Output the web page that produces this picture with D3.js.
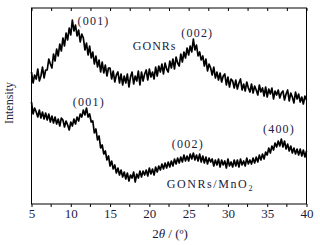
<!DOCTYPE html>
<html>
<head>
<meta charset="utf-8">
<script src="https://cdn.jsdelivr.net/npm/d3@7"></script>
<style>
  body { margin: 0; background: #fff; }
  text { font-family: "Liberation Serif", "Times New Roman", serif; }
</style>
</head>
<body>
<div id="chart"></div>
<script>
// 2theta sampling: 5 to 40 degrees, step 0.2
const THETA_START = 5
const THETA_STEP = 0.2

// GONRs intensity (a.u.), one value per step
const gonrs = [
  131,120,128,124,134,122,127,136,125,133,
  133,144,139,135,149,142,154,147,159,152,
  165,157,170,163,175,168,183,172,178,167,
  173,161,169,165,153,160,148,157,145,151,
  139,147,136,143,131,141,130,138,127,135,
  135,124,132,121,128,131,120,129,118,127,
  120,129,116,126,131,119,127,122,132,118,
  131,122,129,133,123,134,126,131,124,136,
  127,137,131,139,129,140,134,131,142,135,
  144,134,146,140,137,149,141,151,145,155,
  148,157,151,164,153,158,147,151,143,147,
  137,144,132,139,135,128,136,125,131,123,
  130,121,127,129,118,126,116,124,122,115,
  123,114,120,124,113,119,112,121,115,111,
  119,110,117,113,108,118,111,115,107,116,
  106,114,109,115,104,112,108,113,105,110,
  112,103,109,113,102,110,106,100,111,104,
  109,101,106,99,107,103
]

// GONRs/MnO2 intensity (a.u.)
const gonrsMnO2 = [
  101,89,95,91,86,93,85,91,84,90,
  83,89,81,87,80,86,79,84,77,85,
  83,76,82,78,73,81,77,84,79,86,
  82,89,86,93,88,95,86,89,81,82,
  70,74,63,67,55,58,49,52,43,47,
  37,42,34,38,30,35,28,33,26,31,
  24,30,22,28,25,31,21,29,25,32,
  26,32,28,33,27,35,29,34,28,36,
  31,37,33,39,34,40,35,41,36,42,
  37,44,39,45,40,46,41,48,42,47,
  42,49,44,50,43,48,42,49,41,47,
  40,46,39,45,41,44,37,43,38,44,
  36,43,38,42,35,44,37,41,36,43,
  37,43,36,44,38,42,37,45,39,43,
  39,45,40,46,41,48,43,49,44,51,
  48,55,50,57,53,60,56,62,57,64,
  56,62,54,59,52,57,50,55,49,54,
  48,54,47,53,46,52
]

// x ticks
const xTicks = [5, 10, 15, 20, 25, 30, 35, 40]
const xMinor = [7.5, 12.5, 17.5, 22.5, 27.5, 32.5, 37.5]

// peak labels: [2theta, intensity, text]
const peakLabels = [
  [12.9, 178, "(001)"],
  [26.1, 166, "(002)"],
  [12.3, 97, "(001)"],
  [24.9, 55, "(002)"],
  [36.5, 70, "(400)"]
]

const WIDTH = 320
const HEIGHT = 245
const PLOT = {LEFT: 31.5, RIGHT: 306.5, TOP: 8, BOTTOM: 204}
const TEXT = "#1a2140"

let svg = d3.select("#chart").append("svg")
    .attr("width", WIDTH)
    .attr("height", HEIGHT)

let xScale = d3.scaleLinear()
    .domain([5, 40])
    .range([PLOT.LEFT, PLOT.RIGHT])

let yScale = d3.scaleLinear()
    .domain([-1, 195])
    .range([PLOT.BOTTOM, PLOT.TOP])

let line = d3.line()
    .x((d, i) => xScale(THETA_START + i * THETA_STEP))
    .y(d => yScale(d))

// the two traces
;[gonrs, gonrsMnO2].forEach(series => {
  svg.append("path")
      .datum(series)
      .attr("d", line)
      .attr("fill", "none")
      .attr("stroke", "#000")
      .attr("stroke-width", 1.7)
      .attr("stroke-linejoin", "round")
})

// frame
svg.append("rect")
    .attr("x", PLOT.LEFT)
    .attr("y", PLOT.TOP)
    .attr("width", PLOT.RIGHT - PLOT.LEFT)
    .attr("height", PLOT.BOTTOM - PLOT.TOP)
    .attr("fill", "none")
    .attr("stroke", "#000")
    .attr("stroke-width", 1)

// bottom axis
let bottomAxis = svg.append("g")
    .attr("transform", "translate(0," + PLOT.BOTTOM + ")")
    .call(d3.axisBottom(xScale).tickValues(xTicks).tickSize(3).tickPadding(2))
bottomAxis.select(".domain").remove()
bottomAxis.selectAll("text")
    .attr("font-size", 13)
    .attr("fill", TEXT)
bottomAxis.selectAll(".minor")
    .data(xMinor).enter().append("line")
    .attr("x1", d => xScale(d)).attr("x2", d => xScale(d))
    .attr("y1", 0).attr("y2", 3)
    .attr("stroke", "#000")

// top ticks pointing in
let topAxis = svg.append("g")
    .attr("transform", "translate(0," + PLOT.TOP + ")")
    .call(d3.axisTop(xScale).tickValues(xTicks.concat(xMinor)).tickSize(-3).tickFormat(""))
topAxis.select(".domain").remove()

// axis titles
let xTitle = svg.append("text")
    .attr("x", 170)
    .attr("y", 238)
    .attr("text-anchor", "middle")
    .attr("font-size", 13)
    .attr("fill", TEXT)
xTitle.append("tspan").text("2")
xTitle.append("tspan").attr("font-style", "italic").text("θ")
xTitle.append("tspan").text(" / (º)")

svg.append("text")
    .attr("transform", "translate(13,103) rotate(-90)")
    .attr("text-anchor", "middle")
    .attr("font-size", 12)
    .attr("fill", TEXT)
    .text("Intensity")

// peak labels
svg.selectAll(".peak")
    .data(peakLabels).enter().append("text")
    .attr("x", d => xScale(d[0]))
    .attr("y", d => yScale(d[1]))
    .attr("text-anchor", "middle")
    .attr("font-size", 12)
    .attr("letter-spacing", 1.2)
    .attr("fill", TEXT)
    .text(d => d[2])

// sample names
svg.append("text")
    .attr("x", xScale(17.9))
    .attr("y", yScale(153))
    .attr("font-size", 12)
    .attr("letter-spacing", 1)
    .attr("fill", TEXT)
    .text("GONRs")

let mno2 = svg.append("text")
    .attr("x", xScale(22.2))
    .attr("y", yScale(15))
    .attr("font-size", 12)
    .attr("letter-spacing", 1.6)
    .attr("fill", TEXT)
mno2.append("tspan").text("GONRs/MnO")
mno2.append("tspan").attr("font-size", 8).attr("dy", 3).text("2")
</script>
</body>
</html>
